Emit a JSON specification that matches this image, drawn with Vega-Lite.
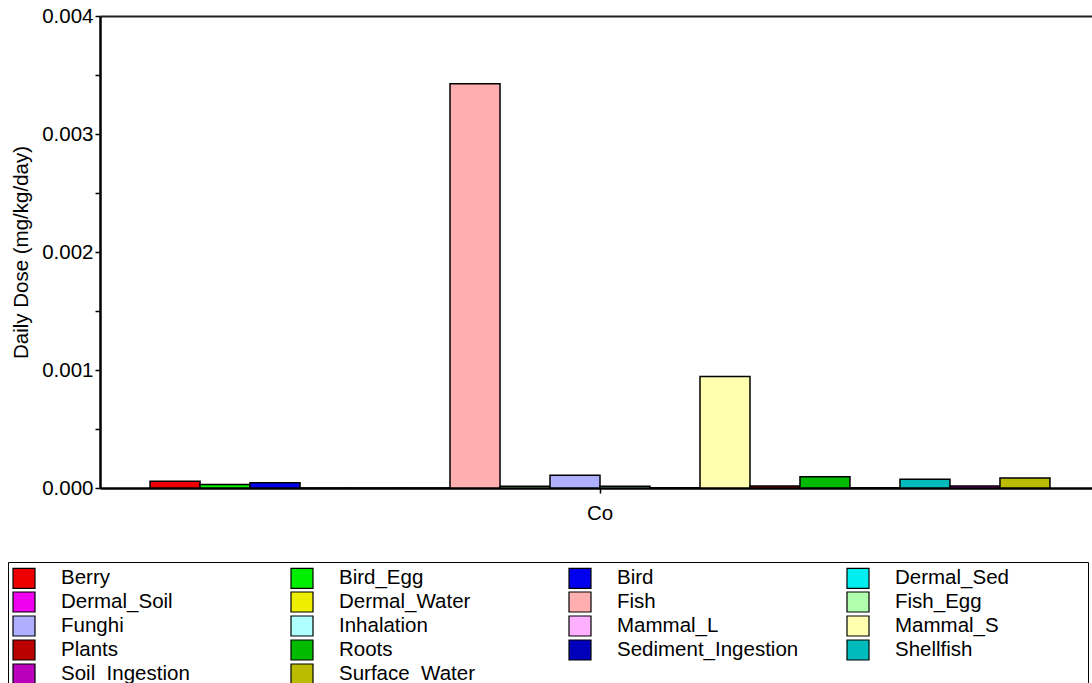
{
  "$schema": "https://vega.github.io/schema/vega-lite/v6.json",
  "autosize": {"type": "none"},
  "padding": {"left": 100, "top": 16, "right": 1, "bottom": 195},
  "width": 991,
  "height": 472,
  "background": "white",
  "config": {
    "view": {"stroke": null},
    "font": "Liberation Sans",
    "axis": {"labelColor": "black", "tickColor": "black", "domainColor": "black", "titleColor": "black", "labelFont": "Liberation Sans", "titleFont": "Liberation Sans", "grid": false}
  },
  "data": {
    "values": [
      {"element": "Co", "source": "Berry", "dose": 0.000057},
      {"element": "Co", "source": "Bird_Egg", "dose": 0.000030},
      {"element": "Co", "source": "Bird", "dose": 0.000045},
      {"element": "Co", "source": "Dermal_Sed", "dose": 0.000001},
      {"element": "Co", "source": "Dermal_Soil", "dose": 0.0000005},
      {"element": "Co", "source": "Dermal_Water", "dose": 0.0000005},
      {"element": "Co", "source": "Fish", "dose": 0.003425},
      {"element": "Co", "source": "Fish_Egg", "dose": 0.000015},
      {"element": "Co", "source": "Funghi", "dose": 0.000108},
      {"element": "Co", "source": "Inhalation", "dose": 0.000015},
      {"element": "Co", "source": "Mammal_L", "dose": 0.000002},
      {"element": "Co", "source": "Mammal_S", "dose": 0.000945},
      {"element": "Co", "source": "Plants", "dose": 0.000018},
      {"element": "Co", "source": "Roots", "dose": 0.000095},
      {"element": "Co", "source": "Sediment_Ingestion", "dose": 0.000003},
      {"element": "Co", "source": "Shellfish", "dose": 0.000075},
      {"element": "Co", "source": "Soil_Ingestion", "dose": 0.000018},
      {"element": "Co", "source": "Surface_Water", "dose": 0.000085}
    ]
  },
  "layer": [
    {
      "mark": {"type": "bar", "stroke": "black", "strokeWidth": 1.5, "opacity": 1},
      "encoding": {
        "x": {
          "field": "element", "type": "nominal",
          "scale": {"range": [0, 1000], "paddingInner": 0, "paddingOuter": 0.0556},
          "axis": {"orient": "bottom", "title": null, "labelAngle": 0, "labelFontSize": 20.5, "tickSize": 5, "tickWidth": 1.5, "domainWidth": 2.5, "labelPadding": 10}
        },
        "xOffset": {"field": "source", "type": "nominal", "sort": null},
        "y": {
          "field": "dose", "type": "quantitative",
          "scale": {"domain": [0, 0.004], "nice": false},
          "axis": {
            "title": "Daily Dose (mg/kg/day)",
            "titleFontSize": 20.5, "titleFontWeight": "normal", "titlePadding": 10,
            "values": [0, 0.0005, 0.001, 0.0015, 0.002, 0.0025, 0.003, 0.0035, 0.004],
            "labelExpr": "round(datum.value * 2000) % 2 == 0 ? format(datum.value, '.3f') : ''",
            "labelFontSize": 20.5, "labelPadding": 2, "tickSize": 5, "tickWidth": 1.5, "domainWidth": 2.5
          }
        },
        "color": {
          "field": "source", "type": "nominal",
          "scale": {
            "domain": ["Berry", "Bird_Egg", "Bird", "Dermal_Sed", "Dermal_Soil", "Dermal_Water", "Fish", "Fish_Egg", "Funghi", "Inhalation", "Mammal_L", "Mammal_S", "Plants", "Roots", "Sediment_Ingestion", "Shellfish", "Soil_Ingestion", "Surface_Water"],
            "range": ["#EE0000", "#00EE00", "#0000EE", "#00EEEE", "#EE00EE", "#EEEE00", "#FFAFAF", "#AFFFAF", "#AFAFFF", "#AFFFFF", "#FFAFFF", "#FFFFAF", "#BB0000", "#00BB00", "#0000BB", "#00BBBB", "#BB00BB", "#BBBB00"]
          },
          "legend": {
            "orient": "none", "legendX": -92, "legendY": 546, "direction": "horizontal",
            "title": null, "columns": 4, "gridAlign": "all", "columnPadding": 39, "rowPadding": -2.3,
            "padding": 5, "strokeColor": "black",
            "symbolType": "M-1.1,-1H1.1V1H-1.1Z", "symbolSize": 400, "symbolStrokeColor": "black", "symbolStrokeWidth": 1.2, "symbolOpacity": 1,
            "labelExpr": "datum.label == 'Dermal_Sed' ? datum.label + '             \u200b' : datum.label",
            "labelFontSize": 20.5, "labelFont": "Liberation Sans", "labelColor": "black", "labelOffset": 26, "labelLimit": 400
          }
        }
      }
    },
    {
      "mark": {"type": "bar", "opacity": 0},
      "encoding": {
        "x": {
          "field": "element", "type": "nominal",
          "axis": {"orient": "top", "title": null, "labels": false, "ticks": false, "domainWidth": 2, "domainColor": "#222222"}
        },
        "y": {"field": "dose", "type": "quantitative"}
      }
    }
  ],
  "resolve": {"axis": {"x": "independent"}}
}
